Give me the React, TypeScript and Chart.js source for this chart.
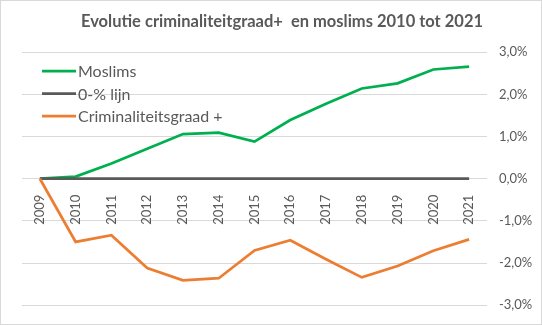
import React, { useEffect, useRef } from "react";
import { Chart, registerables } from "chart.js";

Chart.register(...registerables);

const years = ["2009", "2010", "2011", "2012", "2013", "2014", "2015", "2016", "2017", "2018", "2019", "2020", "2021"];
const moslims = [0, 0.05, 0.36, 0.71, 1.06, 1.09, 0.88, 1.39, 1.78, 2.14, 2.26, 2.59, 2.66];
const nulLijn = [0, 0, 0, 0, 0, 0, 0, 0, 0, 0, 0, 0, 0];
const criminaliteit = [0, -1.5, -1.34, -2.12, -2.41, -2.36, -1.7, -1.46, -1.91, -2.34, -2.07, -1.71, -1.44];
const yTicks = [-3, -2, -1, 0, 1, 2, 3];

const titleText = "Evolutie criminaliteitgraad+  en moslims 2010 tot 2021";
const FONT = "Lato, 'Noto Sans', sans-serif";
const GREY = "#595959";

const bgPlugin = {
  id: "bgBorder",
  beforeDraw(chart: any) {
    const { ctx, width, height } = chart;
    ctx.save();
    ctx.fillStyle = "#ffffff";
    ctx.fillRect(0, 0, width, height);
    ctx.strokeStyle = "#d9d9d9";
    ctx.lineWidth = 1;
    ctx.strokeRect(0.5, 0.5, width - 1, height - 1);
    ctx.restore();
  },
};

const legendPlugin = {
  id: "insideLegend",
  afterDraw(chart: any) {
    const { ctx, chartArea } = chart;
    const x0 = chartArea.left + 20;
    const y0 = chartArea.top + 19;
    ctx.save();
    ctx.font = `16px ${FONT}`;
    ctx.textBaseline = "middle";
    chart.data.datasets.forEach((ds: any, i: number) => {
      const y = y0 + i * 22.5;
      ctx.strokeStyle = ds.borderColor;
      ctx.lineWidth = 2.75;
      ctx.beginPath();
      ctx.moveTo(x0, y);
      ctx.lineTo(x0 + 34, y);
      ctx.stroke();
      ctx.fillStyle = GREY;
      ctx.fillText(ds.label, x0 + 36, y + 1);
    });
    ctx.restore();
  },
};

export default function App() {
  const ref = useRef<HTMLCanvasElement>(null);
  useEffect(() => {
    document.body.style.margin = "0";
    const chart = new Chart(ref.current!, {
      type: "line",
      data: {
        labels: years,
        datasets: [
          { label: "Moslims", data: moslims, borderColor: "#00B050", backgroundColor: "#00B050", borderWidth: 2.75, pointRadius: 0, order: 3 },
          { label: "0-% lijn", data: nulLijn, borderColor: GREY, backgroundColor: GREY, borderWidth: 2.75, pointRadius: 0, order: 2 },
          { label: "Criminaliteitsgraad +", data: criminaliteit, borderColor: "#ED7D31", backgroundColor: "#ED7D31", borderWidth: 2.75, pointRadius: 0, order: 1 },
        ],
      },
      options: {
        animation: false,
        responsive: false,
        layout: { padding: { left: 22, right: 0, top: 0, bottom: 19 } },
        plugins: {
          legend: { display: false },
          tooltip: { enabled: false },
          title: {
            display: true,
            text: titleText,
            color: GREY,
            font: { family: FONT, size: 16.5, weight: "bold" },
            padding: { top: 12, bottom: 20.4 },
          },
        },
        scales: {
          x: {
            type: "category",
            position: { y: 0 } as any,
            offset: true,
            grid: { display: false },
            border: { display: false },
            ticks: {
              color: GREY,
              font: { family: FONT, size: 13 },
              minRotation: 90,
              maxRotation: 90,
              autoSkip: false,
              padding: 8,
            },
          },
          y: {
            position: "right",
            min: yTicks[0],
            max: yTicks[yTicks.length - 1],
            afterBuildTicks(scale: any) {
              scale.ticks = yTicks.map((v) => ({ value: v }));
            },
            afterFit(scale: any) {
              scale.width = 55;
            },
            grid: { color: "#d9d9d9", lineWidth: 1, drawTicks: false },
            border: { display: false },
            ticks: {
              color: GREY,
              font: { family: FONT, size: 13 },
              padding: 12,
              callback: (v: any) => `${Number(v).toFixed(1).replace(".", ",")}%`,
            },
          },
        },
      },
      plugins: [bgPlugin, legendPlugin],
    });
    return () => chart.destroy();
  }, []);
  return <canvas ref={ref} width={542} height={325} style={{ display: "block" }} />;
}
